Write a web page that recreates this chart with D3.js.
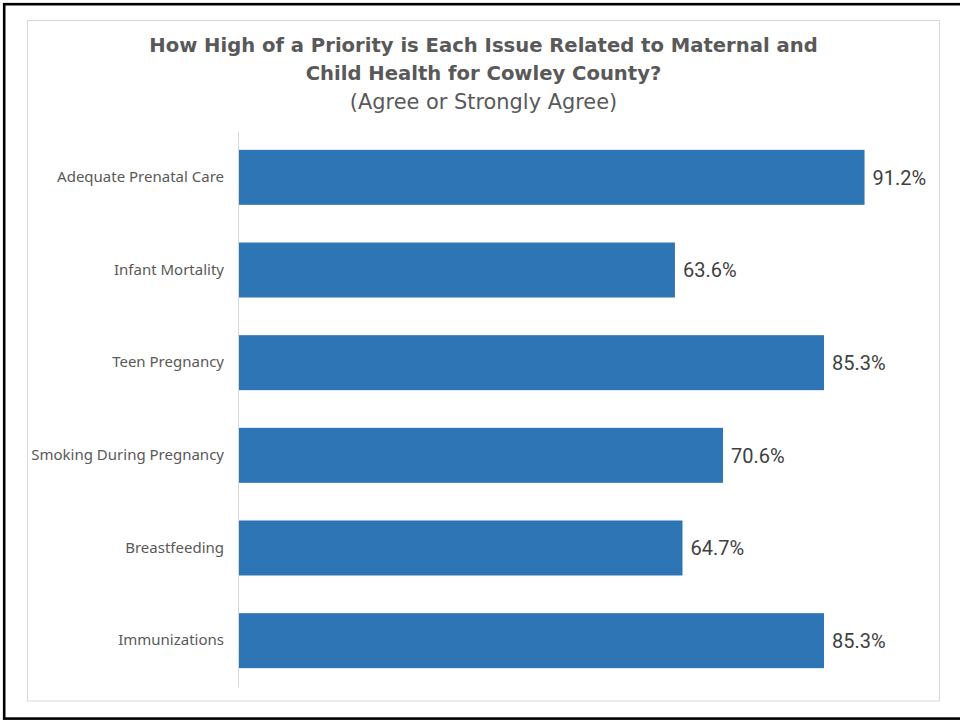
<!DOCTYPE html>
<html>
<head>
<meta charset="utf-8">
<script src="https://cdn.jsdelivr.net/npm/d3@7"></script>
<style>
  html, body { margin: 0; padding: 0; background: #ffffff; }
  svg { display: block; }
</style>
</head>
<body>
<svg id="chart" width="960" height="721"></svg>
<script>
const categories = ["Adequate Prenatal Care", "Infant Mortality", "Teen Pregnancy", "Smoking During Pregnancy", "Breastfeeding", "Immunizations"];
const values = [91.2, 63.6, 85.3, 70.6, 64.7, 85.3];
const titleLines = ["How High of a Priority is Each Issue Related to Maternal and", "Child Health for Cowley County?"];
const subtitle = "(Agree or Strongly Agree)";

const svg = d3.select("#chart");
const W = 960, H = 721;

svg.append("rect").attr("x", 0).attr("y", 0).attr("width", W).attr("height", H).attr("fill", "#ffffff");

// outer black frame (extends beyond right edge)
svg.append("rect")
  .attr("x", 4.2).attr("y", 4.2).attr("width", 980).attr("height", 714.4)
  .attr("fill", "none").attr("stroke", "#000000").attr("stroke-width", 2.6);

// inner chart area border
svg.append("rect")
  .attr("x", 27.5).attr("y", 20.5).attr("width", 912).attr("height", 680.5)
  .attr("fill", "#ffffff").attr("stroke", "#d9d9d9").attr("stroke-width", 1);

const cx = 483.5;
const title = svg.append("text")
  .attr("text-anchor", "middle")
  .attr("fill", "#595959")
  .style("font-family", "'DejaVu Sans', Verdana, sans-serif");
title.selectAll("tspan.t").data(titleLines).enter().append("tspan")
  .attr("class", "t")
  .attr("x", cx)
  .attr("y", (d, i) => 52 + i * 28)
  .style("font-weight", "bold")
  .style("font-size", "19.6px")
  .text(d => d);
svg.append("text")
  .attr("x", cx).attr("y", 109)
  .attr("text-anchor", "middle")
  .attr("fill", "#595959")
  .style("font-family", "'DejaVu Sans', Verdana, sans-serif")
  .style("font-size", "20.9px")
  .text(subtitle);

const x = d3.scaleLinear().domain([0, 100]).range([238, 925]);
const y = d3.scaleBand().domain(categories).range([131, 687]).paddingInner(0.4065).paddingOuter(0.2033);

// bars
svg.append("g").selectAll("rect").data(categories).enter().append("rect")
  .attr("x", x(0))
  .attr("y", d => y(d))
  .attr("width", (d, i) => x(values[i]) - x(0))
  .attr("height", y.bandwidth())
  .attr("fill", "#2e75b6");

// category axis
const yAxis = d3.axisLeft(y).tickSize(0).tickPadding(14);
const gy = svg.append("g").attr("transform", `translate(${x(0)},0)`).call(yAxis);
gy.select(".domain").attr("stroke", "#d9d9d9").attr("stroke-width", 1);
gy.selectAll("text")
  .attr("fill", "#595959")
  .style("font-family", "'Noto Sans', sans-serif")
  .style("font-size", "15px");

// value labels
const fmt = d3.format(".1f");
svg.append("g").selectAll("text").data(categories).enter().append("text")
  .attr("x", (d, i) => x(values[i]) + 8)
  .attr("y", d => y(d) + y.bandwidth() / 2)
  .attr("dy", "0.36em")
  .attr("fill", "#404040")
  .style("font-family", "Roboto, sans-serif")
  .style("font-size", "20px")
  .text((d, i) => fmt(values[i]) + "%");
</script>
</body>
</html>
